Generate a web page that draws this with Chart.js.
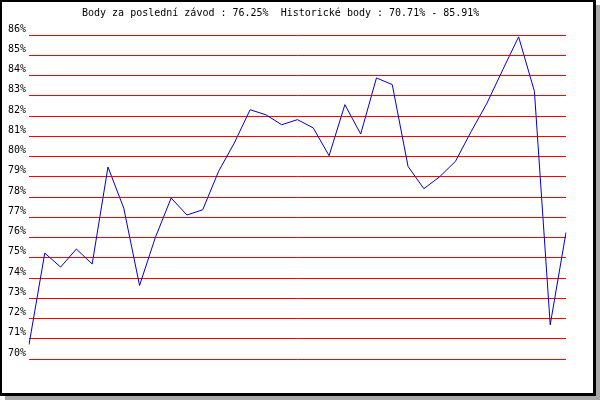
<!DOCTYPE html>
<html>
<head>
<meta charset="utf-8">
<script src="https://cdn.jsdelivr.net/npm/chart.js@4"></script>
<style>
    html, body { margin: 0; padding: 0; background: #ffffff; }
    #wrap { width: 600px; height: 400px; position: relative; }
</style>
</head>
<body>
<div id="wrap"><canvas id="chart" width="600" height="400"></canvas></div>
<script>
// ======== Data ========
const titleText = 'Body za poslední závod : 76.25%  Historické body : 70.71% - 85.91%';
const races = Array.from({ length: 35 }, (_, i) => String(i + 1));
const points = [
    70.71, 75.23, 74.54, 75.43, 74.69, 79.48, 77.45, 73.63, 76.0, 77.95,
    77.11, 77.37, 79.26, 80.67, 82.31, 82.06, 81.57, 81.82, 81.41, 80.04,
    82.56, 81.11, 83.88, 83.55, 79.51, 78.41, 79.0, 79.76, 81.24, 82.64,
    84.29, 85.91, 83.22, 71.69, 76.25
];
const yMin = 70;
const yMax = 86;

const monoFont = "'DejaVu Sans Mono', 'Liberation Mono', monospace";

// ======== Frame + title ========
const framePlugin = {
    id: 'frame',
    beforeDraw(chart) {
        const ctx = chart.ctx;
        ctx.save();
        ctx.fillStyle = '#ffffff';
        ctx.fillRect(0, 0, 600, 400);
        // shadow
        ctx.fillStyle = '#a8a8a8';
        ctx.fillRect(596, 5, 4, 395);
        ctx.fillRect(5, 396, 595, 4);
        // border
        ctx.fillStyle = '#000000';
        ctx.fillRect(0, 0, 596, 2);
        ctx.fillRect(0, 0, 2, 396);
        ctx.fillRect(593, 0, 3, 396);
        ctx.fillRect(0, 393, 596, 3);
        ctx.restore();
    },
    afterDraw(chart) {
        const ctx = chart.ctx;
        ctx.save();
        ctx.fillStyle = '#000000';
        ctx.font = '10px ' + monoFont;
        ctx.textAlign = 'left';
        ctx.textBaseline = 'middle';
        ctx.fillText(titleText, 82, 13);
        ctx.restore();
    }
};

new Chart(document.getElementById('chart').getContext('2d'), {
    type: 'line',
    data: {
        labels: races,
        datasets: [{
            data: points,
            borderColor: '#0000cc',
            borderWidth: 1,
            pointRadius: 0,
            tension: 0,
            fill: false,
        }],
    },
    options: {
        responsive: false,
        animation: false,
        devicePixelRatio: 1,
        layout: { padding: { left: 0, right: 34, top: 35, bottom: 41 } },
        plugins: {
            legend: { display: false },
            title: { display: false },
            tooltip: { enabled: false },
        },
        scales: {
            x: {
                display: false,
                offset: false,
            },
            y: {
                min: yMin,
                max: yMax,
                afterFit: (scale) => { scale.width = 29; },
                border: { display: false },
                grid: { color: '#ff0000', lineWidth: 1, drawTicks: false },
                ticks: {
                    stepSize: 1,
                    padding: 3,
                    labelOffset: -6,
                    color: '#000000',
                    font: { family: monoFont, size: 10 },
                    callback: (v) => v + '%',
                },
            },
        },
    },
    plugins: [framePlugin],
});
</script>
</body>
</html>
